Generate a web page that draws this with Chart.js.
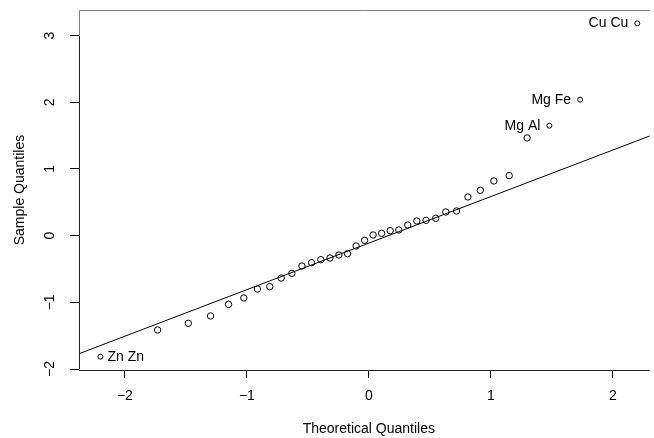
<!DOCTYPE html>
<html>
<head>
<meta charset="utf-8">
<script src="https://cdn.jsdelivr.net/npm/chart.js@4/dist/chart.umd.min.js"></script>
<style>
  html, body { margin: 0; padding: 0; background: #fff; overflow: hidden; }
</style>
</head>
<body>
<canvas id="qq" width="654" height="438"></canvas>
<script>
'use strict';

// Normal scores for 36 observations, qnorm((i - 0.5) / 36)
const theoretical = [
  -2.2004, -1.7317, -1.4799, -1.2974, -1.1503, -1.0246, -0.9135, -0.8122, -0.7187,
  -0.6312, -0.5485, -0.4695, -0.3936, -0.3186, -0.2456, -0.1748, -0.1046, -0.0348,
  0.0348, 0.1046, 0.1748, 0.2456, 0.3186, 0.3936, 0.4695, 0.5485, 0.6312,
  0.7187, 0.8122, 0.9135, 1.0246, 1.1503, 1.2974, 1.4799, 1.7317, 2.2004,
];

// Sorted sample values
const sample = [
  -1.814, -1.414, -1.314, -1.204, -1.030, -0.934, -0.800, -0.765, -0.635,
  -0.565, -0.455, -0.405, -0.360, -0.335, -0.290, -0.270, -0.155, -0.070,
  0.010, 0.035, 0.075, 0.085, 0.160, 0.220, 0.230, 0.260, 0.355,
  0.370, 0.580, 0.680, 0.820, 0.900, 1.465, 1.649, 2.039, 3.183,
];

// Named outliers
const labelIndex = [0, 33, 34, 35];
const labelText = ['Zn Zn', 'Mg Al', 'Mg Fe', 'Cu Cu'];
const labelSide = ['right', 'left', 'left', 'left'];

// Tick values
const xTicks = [-2, -1, 0, 1, 2];
const yTicks = [-2, -1, 0, 1, 2, 3];

// Axis limits (data range plus 4 %)
const X_MIN = -2.376;
const X_MAX = 2.303;
const Y_MIN = -2.014;
const Y_MAX = 3.383;

const FONT = "'Liberation Sans', Arial, Helvetica, sans-serif";
const FONT_SIZE = 14;

// Quantile (type 7) of sorted values
const quantile = (arr, p) => {
  const h = (arr.length - 1) * p;
  const lo = Math.floor(h);
  return arr[lo] + (h - lo) * (arr[lo + 1] - arr[lo]);
};

// Reference line through the first and third quartiles
const q1 = quantile(sample, 0.25);
const q3 = quantile(sample, 0.75);
const slope = (q3 - q1) / (0.6745 * 2);
const intercept = q1 + slope * 0.6745;
const qqLine = [X_MIN, X_MAX].map((x) => ({ x: x, y: intercept + slope * x }));

const points = theoretical.map((x, i) => ({ x: x, y: sample[i] }));
const radii = sample.map((_, i) => (labelIndex.includes(i) ? 2.5 : 3.2));

const fmt = (v) => (v < 0 ? '\u2212' + Math.abs(v) : String(v));

// Box, axis lines, rotated y labels, axis titles and point names
const decorations = {
  id: 'decorations',
  afterDraw(chart) {
    const { ctx, chartArea: ca, scales } = chart;
    const xs = scales.x;
    const ys = scales.y;
    ctx.save();
    ctx.lineWidth = 1;

    // Box
    ctx.strokeStyle = '#808080';
    ctx.beginPath();
    ctx.moveTo(ca.left + 0.5, ca.bottom);
    ctx.lineTo(ca.left + 0.5, ca.top + 0.5);
    ctx.lineTo(ca.right, ca.top + 0.5);
    ctx.stroke();
    ctx.strokeStyle = '#222';
    ctx.beginPath();
    ctx.moveTo(ca.left, Math.round(ca.bottom) + 0.5);
    ctx.lineTo(ca.right, Math.round(ca.bottom) + 0.5);
    ctx.stroke();

    // Left axis line from first to last tick
    ctx.beginPath();
    ctx.moveTo(ca.left + 0.5, Math.round(ys.getPixelForValue(yTicks[0])));
    ctx.lineTo(ca.left + 0.5, Math.round(ys.getPixelForValue(yTicks[yTicks.length - 1])));
    ctx.stroke();

    ctx.fillStyle = '#000';
    ctx.font = FONT_SIZE + 'px ' + FONT;

    // Y tick labels, parallel to the axis
    ctx.textAlign = 'center';
    ctx.textBaseline = 'middle';
    yTicks.forEach((v) => {
      ctx.save();
      ctx.translate(50, ys.getPixelForValue(v));
      ctx.rotate(-Math.PI / 2);
      ctx.fillText(fmt(v), 0, 0);
      ctx.restore();
    });

    // Axis titles
    const xCenter = xs.getPixelForValue((X_MIN + 2.376) / 2);
    ctx.fillText('Theoretical Quantiles', xCenter, 429);
    ctx.save();
    ctx.translate(20, (ca.top + ca.bottom) / 2);
    ctx.rotate(-Math.PI / 2);
    ctx.fillText('Sample Quantiles', 0, 0);
    ctx.restore();

    // Point names
    labelIndex.forEach((idx, k) => {
      const px = xs.getPixelForValue(theoretical[idx]);
      const py = ys.getPixelForValue(sample[idx]);
      if (labelSide[k] === 'left') {
        ctx.textAlign = 'right';
        ctx.fillText(labelText[k], px - 9, py);
      } else {
        ctx.textAlign = 'left';
        ctx.fillText(labelText[k], px + 7, py);
      }
    });
    ctx.restore();
  },
};

new Chart(document.getElementById('qq'), {
  data: {
    datasets: [
      {
        type: 'scatter',
        data: points,
        pointStyle: 'circle',
        pointRadius: radii,
        pointHoverRadius: radii,
        borderColor: '#000',
        backgroundColor: 'rgba(0,0,0,0)',
        borderWidth: 1,
      },
      {
        type: 'line',
        data: qqLine,
        borderColor: '#000',
        borderWidth: 1,
        pointRadius: 0,
        fill: false,
      },
    ],
  },
  options: {
    responsive: false,
    animation: false,
    devicePixelRatio: 1,
    events: [],
    layout: { padding: { top: 10, left: 0, right: 0, bottom: 0 } },
    plugins: {
      legend: { display: false },
      tooltip: { enabled: false },
    },
    scales: {
      x: {
        type: 'linear',
        min: X_MIN,
        max: X_MAX,
        afterBuildTicks: (s) => { s.ticks = xTicks.map((v) => ({ value: v })); },
        afterFit: (s) => { s.height = 68; },
        border: { display: false },
        grid: { display: true, drawOnChartArea: false, drawTicks: true, tickLength: 8, color: '#000' },
        ticks: {
          color: '#000',
          padding: 10,
          maxRotation: 0,
          font: { family: FONT, size: FONT_SIZE },
          callback: (v) => fmt(v),
        },
      },
      y: {
        type: 'linear',
        min: Y_MIN,
        max: Y_MAX,
        afterBuildTicks: (s) => { s.ticks = yTicks.map((v) => ({ value: v })); },
        afterFit: (s) => { s.width = 79; },
        border: { display: false },
        grid: { display: true, drawOnChartArea: false, drawTicks: true, tickLength: 9, color: '#000' },
        ticks: { display: false },
      },
    },
  },
  plugins: [decorations],
});
</script>
</body>
</html>
